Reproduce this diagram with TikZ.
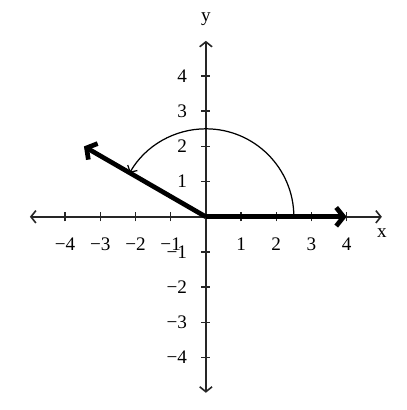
\documentclass[tikz,border=0pt]{standalone}
\usepackage{fontspec}
\setmainfont{Liberation Serif}
\usetikzlibrary{arrows.meta}

\begin{document}
\begin{tikzpicture}[font=\fontsize{15.5pt}{18pt}\selectfont,
  axis/.style={line width=1.3pt, black!85, {Straight Barb[length=4pt,width=10pt]}-{Straight Barb[length=4pt,width=10pt]}},
  tick/.style={line width=1.2pt, black!85},
  vec/.style={line width=3.8pt, -{Straight Barb[length=6pt,width=15pt]}},
  turn/.style={line width=1pt, -{Straight Barb[length=4pt,width=9pt]}},
  lab/.style={inner sep=0pt}]
\useasboundingbox (-5.85,-5.49) rectangle (5.71,6.16);
\coordinate (O) at (0,0);
\coordinate (xmin) at (-5,0);
\coordinate (xmax) at (5,0);
\coordinate (ymin) at (0,-5);
\coordinate (ymax) at (0,5);
\coordinate (u) at (4,0);
\coordinate (v) at (150:4);
\coordinate (a) at (2.5,0);

\draw[axis] (xmin) -- (xmax);
\draw[axis] (ymin) -- (ymax);
\node[lab](xlab) at (5,-0.46){x};
\node[lab](ylab) at (0,5.62){y};
\foreach \i/\t in {-4/−4,-3/−3,-2/−2,-1/−1,1/1,2/2,3/3,4/4}{
  \draw[tick] (\i,-0.13) -- (\i,0.13);
  \draw[tick] (-0.13,\i) -- (0.13,\i);
  \node[lab](xt\i) at (\i,-0.78){\t};
  \node[lab, anchor=east](yt\i) at (-0.53,\i){\t};
}

\draw[turn] (a) arc[start angle=0, end angle=150, radius=2.5];
\draw[vec] (O) -- (u);
\draw[vec] (O) -- (v);

\end{tikzpicture}
\end{document}
